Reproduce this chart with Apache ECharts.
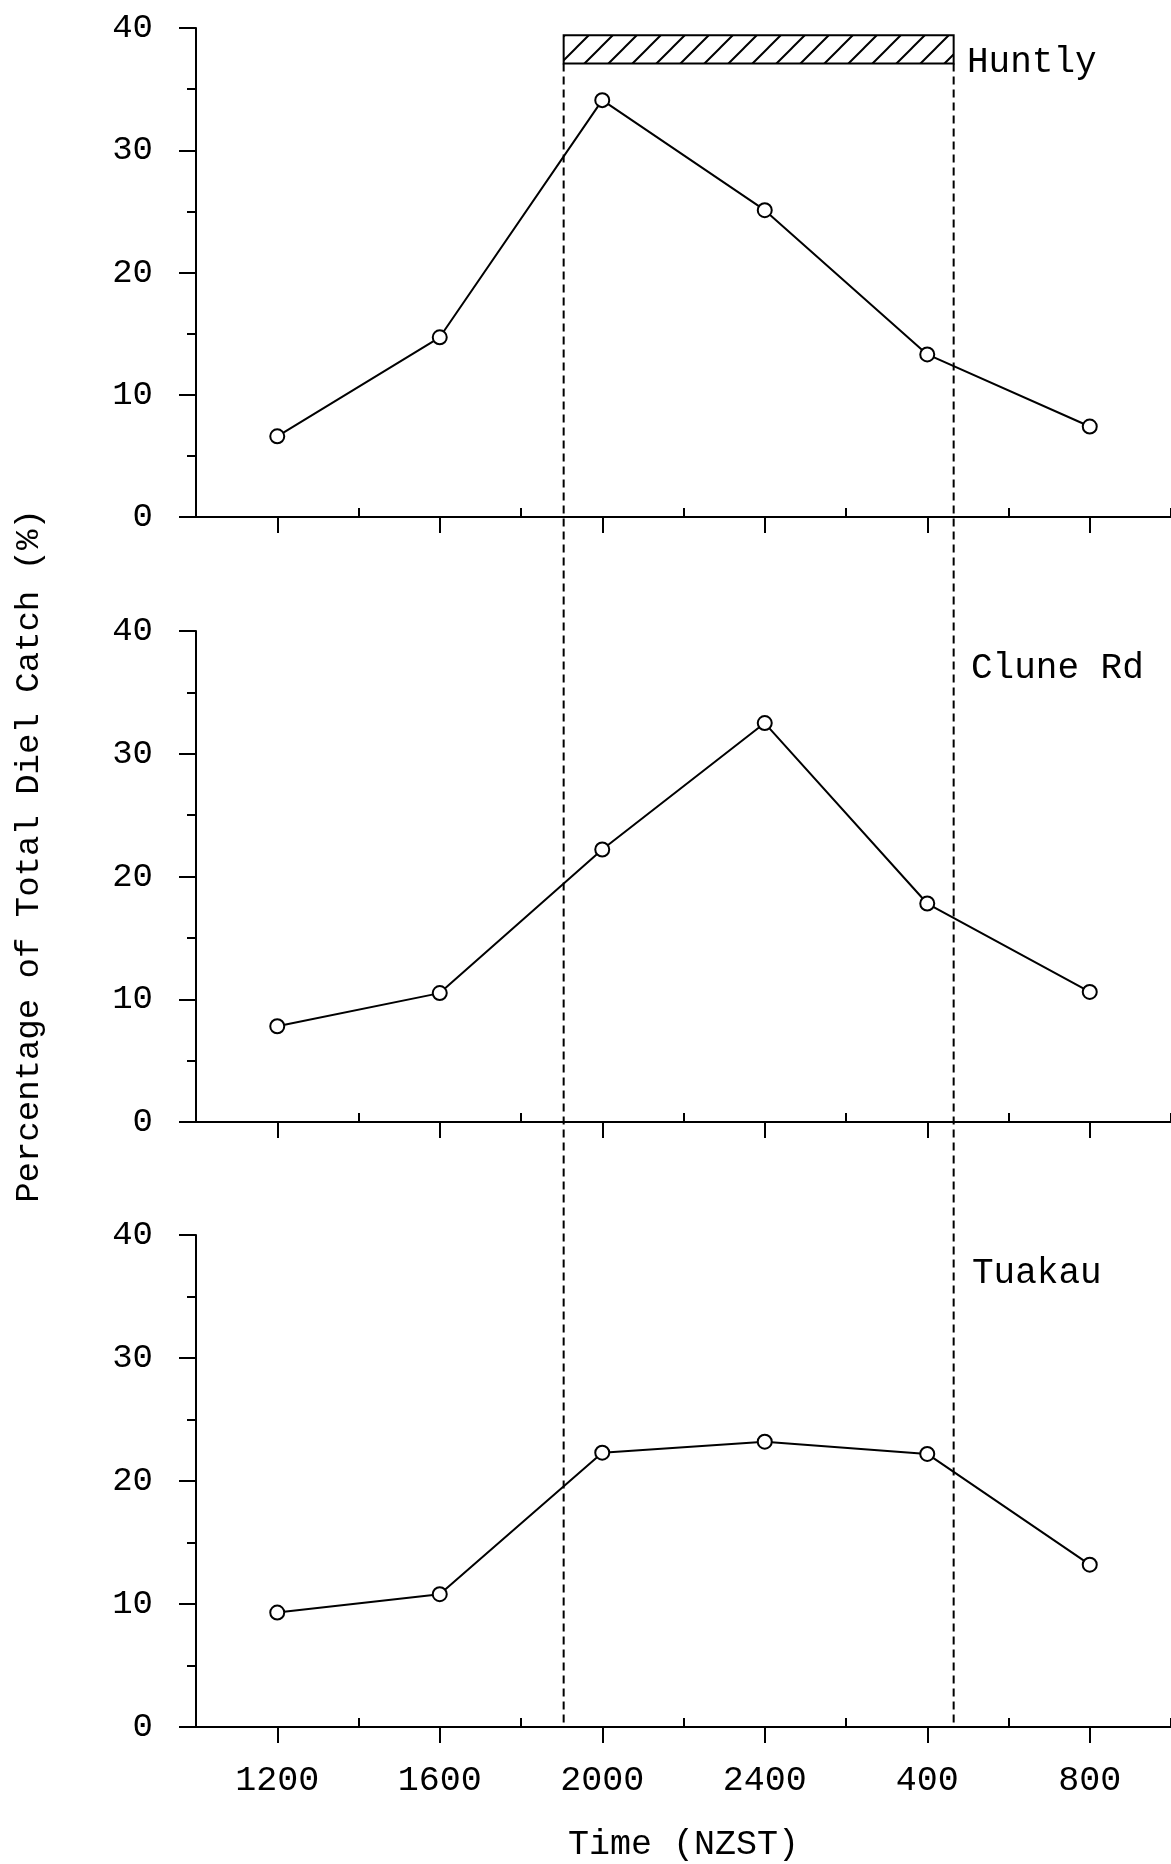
<!DOCTYPE html>
<html>
<head>
<meta charset="utf-8">
<script src="https://cdn.jsdelivr.net/npm/echarts@6/dist/echarts.min.js"></script>
<style>
  html, body { margin: 0; padding: 0; background: #fff; }
  #main { width: 1171px; height: 1864px; }
</style>
</head>
<body>
<div id="main"></div>
<script>
// time is counted in hours after 1200 NZST
var timeLabels = ['1200', '1600', '2000', '2400', '400', '800'];
var timeHours = [0, 4, 8, 12, 16, 20];
var minorHours = [-2, 2, 6, 10, 14, 18, 22];
var sites = ['Huntly', 'Clune Rd', 'Tuakau'];
var huntly = [6.6, 14.7, 34.1, 25.1, 13.3, 7.4];
var cluneRd = [7.8, 10.5, 22.2, 32.5, 17.8, 10.6];
var tuakau = [9.3, 10.8, 22.3, 23.2, 22.2, 13.2];
var nightStart = 7.05;   // dusk, about 1903
var nightEnd = 16.65;    // dawn, about 0440
var nightBar = [37.1, 39.4];

var FONT = 'Liberation Mono';
var black = '#000';
var myChart = echarts.init(document.getElementById('main'), null, {renderer: 'canvas'});

// hatch pattern for the night bar
var hatch = document.createElement('canvas');
hatch.width = 24; hatch.height = 24;
var hc = hatch.getContext('2d');
hc.fillStyle = '#fff';
hc.fillRect(0, 0, 24, 24);
hc.strokeStyle = black;
hc.lineWidth = 2;
hc.beginPath();
hc.moveTo(0, 24); hc.lineTo(24, 0);
hc.moveTo(-12, 12); hc.lineTo(12, -12);
hc.moveTo(12, 36); hc.lineTo(36, 12);
hc.stroke();

var panelTop = [28, 631, 1235];
var panelHeight = [489, 491, 492];
var siteData = [huntly, cluneRd, tuakau];
var labelPos = [[967, 62], [971, 668], [972, 1273]];

var grids = [], xAxes = [], yAxes = [], series = [], graphics = [];
var lineStyle = {color: black, width: 2};

for (var i = 0; i < 3; i++) {
  grids.push({left: 196, right: -2, top: panelTop[i], height: panelHeight[i], containLabel: false});
  xAxes.push({
    gridIndex: i, type: 'value', min: -2, max: 22,
    axisLine: {show: true, onZero: false, lineStyle: lineStyle},
    axisTick: {show: true, customValues: timeHours, length: 16, lineStyle: lineStyle},
    axisLabel: {
      show: i === 2, customValues: timeHours, margin: 36,
      fontFamily: FONT, fontSize: 35, color: black,
      formatter: function (v) { return timeLabels[timeHours.indexOf(v)]; }
    },
    splitLine: {show: false},
    name: i === 2 ? 'Time (NZST)' : '',
    nameLocation: 'middle', nameGap: 100,
    nameTextStyle: {fontFamily: FONT, fontSize: 35, color: black}
  });
  xAxes.push({
    gridIndex: i, type: 'value', min: -2, max: 22,
    axisLine: {show: false},
    axisTick: {show: true, customValues: minorHours, length: 9, lineStyle: lineStyle},
    axisLabel: {show: false},
    splitLine: {show: false}
  });
  yAxes.push({
    gridIndex: i, type: 'value', min: 0, max: 40, interval: 10,
    axisLine: {show: true, onZero: false, lineStyle: lineStyle},
    axisTick: {show: true, length: 17, lineStyle: lineStyle},
    minorTick: {show: true, splitNumber: 2, length: 9, lineStyle: lineStyle},
    axisLabel: {margin: 43, fontFamily: FONT, fontSize: 34, color: black},
    splitLine: {show: false}
  });
  series.push({
    name: sites[i], type: 'line', xAxisIndex: 2 * i, yAxisIndex: i,
    data: timeHours.map(function (h, k) { return [h, this[k]]; }, siteData[i]),
    symbol: 'circle', symbolSize: 14,
    itemStyle: {color: '#fff', borderColor: black, borderWidth: 2},
    lineStyle: lineStyle, z: 5, silent: true
  });
  graphics.push({
    type: 'text', x: labelPos[i][0], y: labelPos[i][1],
    style: {text: sites[i], font: '36px "' + FONT + '"', fill: black, textVerticalAlign: 'middle'}
  });
}

// night bar (hatched) in the Huntly panel
series.push({
  type: 'custom', xAxisIndex: 0, yAxisIndex: 0, clip: false, silent: true, z: 3,
  data: [[nightStart, nightEnd, nightBar[0], nightBar[1]]],
  renderItem: function (params, api) {
    var a = api.coord([api.value(0), api.value(3)]);
    var b = api.coord([api.value(1), api.value(2)]);
    return {
      type: 'rect',
      shape: {x: a[0], y: a[1], width: b[0] - a[0], height: b[1] - a[1]},
      style: {fill: {image: hatch, repeat: 'repeat'}, stroke: black, lineWidth: 2}
    };
  }
});

// dusk / dawn dashed lines, from the bar down to the Tuakau axis
series.push({
  type: 'custom', xAxisIndex: 0, yAxisIndex: 0, clip: false, silent: true, z: 2,
  data: [[nightStart, nightBar[0]], [nightEnd, nightBar[0]]],
  renderItem: function (params, api) {
    var top = api.coord([api.value(0), api.value(1)]);
    var bottom = myChart.convertToPixel({gridIndex: 2}, [api.value(0), 0]);
    if (!bottom) return;
    return {
      type: 'line',
      shape: {x1: top[0], y1: top[1], x2: bottom[0], y2: bottom[1]},
      style: {stroke: black, lineWidth: 2, lineDash: [8, 5]}
    };
  }
});

graphics.push({
  type: 'text', x: 29, y: 856, rotation: Math.PI / 2,
  style: {
    text: 'Percentage of Total Diel Catch (%)', font: '34px "' + FONT + '"',
    fill: black, textAlign: 'center', textVerticalAlign: 'middle'
  }
});

var option = {
  animation: false,
  backgroundColor: '#fff',
  grid: grids,
  xAxis: xAxes,
  yAxis: yAxes,
  series: series,
  graphic: graphics
};
myChart.setOption(option);
</script>
</body>
</html>
